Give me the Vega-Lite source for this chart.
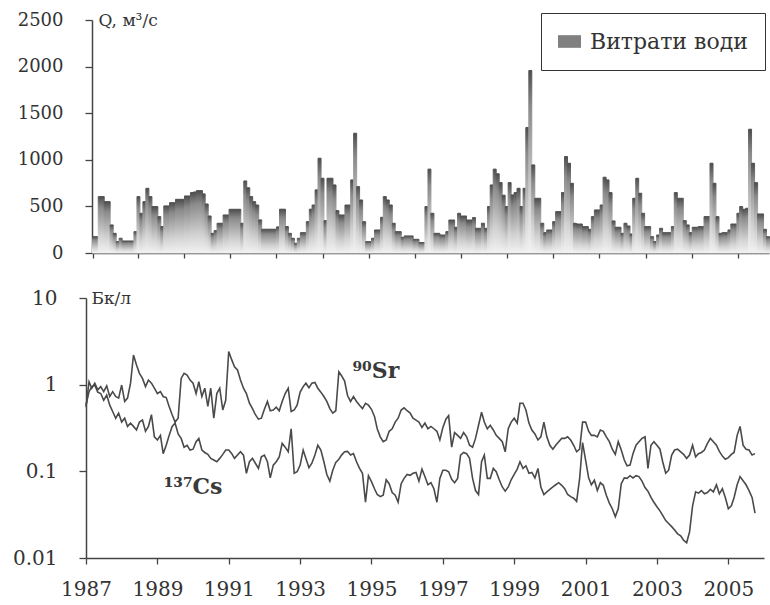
{
 "$schema": "https://vega.github.io/schema/vega-lite/v6.json",
 "background": "white",
 "padding": {"left": 12, "top": 11, "right": 0, "bottom": 0},
 "spacing": 26,
 "config": {
  "view": {"stroke": null},
  "font": "DejaVu Serif",
  "axis": {"grid": false, "domainColor": "#444", "tickColor": "#444", "labelColor": "#333", "labelFont": "DejaVu Serif", "titleFont": "DejaVu Serif", "titleColor": "#333", "titleFontWeight": "normal", "domainWidth": 1.5, "tickWidth": 1.3}
 },
 "datasets": {
  "m": [
   {"d":"1987-01-01","q":175,"sr":0.55,"cs":0.58},{"d":"1987-02-01","q":175,"sr":1.08,"cs":0.83},{"d":"1987-03-01","q":605,"sr":0.91,"cs":0.95},{"d":"1987-04-01","q":605,"sr":1.04,"cs":0.99},{"d":"1987-05-01","q":551,"sr":0.87,"cs":0.82},{"d":"1987-06-01","q":551,"sr":0.95,"cs":0.79},{"d":"1987-07-01","q":301,"sr":0.83,"cs":0.66},{"d":"1987-08-01","q":211,"sr":0.97,"cs":0.76},{"d":"1987-09-01","q":122,"sr":0.73,"cs":0.58},{"d":"1987-10-01","q":158,"sr":0.83,"cs":0.49},{"d":"1987-11-01","q":129,"sr":0.73,"cs":0.41},{"d":"1987-12-01","q":129,"sr":0.70,"cs":0.47},
   {"d":"1988-01-01","q":129,"sr":0.99,"cs":0.37},{"d":"1988-02-01","q":129,"sr":0.64,"cs":0.41},{"d":"1988-03-01","q":229,"sr":0.70,"cs":0.33},{"d":"1988-04-01","q":605,"sr":1.04,"cs":0.36},{"d":"1988-05-01","q":426,"sr":2.2,"cs":0.33},{"d":"1988-06-01","q":551,"sr":1.69,"cs":0.30},{"d":"1988-07-01","q":694,"sr":1.35,"cs":0.37},{"d":"1988-08-01","q":605,"sr":1.18,"cs":0.39},{"d":"1988-09-01","q":498,"sr":0.95,"cs":0.29},{"d":"1988-10-01","q":498,"sr":1.13,"cs":0.33},{"d":"1988-11-01","q":390,"sr":1.04,"cs":0.45},{"d":"1988-12-01","q":283,"sr":0.91,"cs":0.25},
   {"d":"1989-01-01","q":505,"sr":0.79,"cs":0.23},{"d":"1989-02-01","q":505,"sr":0.83,"cs":0.26},{"d":"1989-03-01","q":540,"sr":0.73,"cs":0.16},{"d":"1989-04-01","q":540,"sr":0.71,"cs":0.20},{"d":"1989-05-01","q":576,"sr":0.56,"cs":0.26},{"d":"1989-06-01","q":576,"sr":0.45,"cs":0.33},{"d":"1989-07-01","q":576,"sr":0.37,"cs":0.36},{"d":"1989-08-01","q":612,"sr":0.41,"cs":0.27},{"d":"1989-09-01","q":612,"sr":1.18,"cs":0.24},{"d":"1989-10-01","q":648,"sr":1.35,"cs":0.19},{"d":"1989-11-01","q":655,"sr":1.29,"cs":0.20},{"d":"1989-12-01","q":669,"sr":1.13,"cs":0.176},
   {"d":"1990-01-01","q":669,"sr":1.04,"cs":0.18},{"d":"1990-02-01","q":634,"sr":0.79,"cs":0.22},{"d":"1990-03-01","q":526,"sr":1.08,"cs":0.24},{"d":"1990-04-01","q":397,"sr":0.73,"cs":0.176},{"d":"1990-05-01","q":211,"sr":0.91,"cs":0.165},{"d":"1990-06-01","q":240,"sr":0.56,"cs":0.157},{"d":"1990-07-01","q":319,"sr":0.91,"cs":0.141},{"d":"1990-08-01","q":319,"sr":0.41,"cs":0.135},{"d":"1990-09-01","q":408,"sr":0.79,"cs":0.129},{"d":"1990-10-01","q":408,"sr":0.91,"cs":0.141},{"d":"1990-11-01","q":469,"sr":0.51,"cs":0.157},{"d":"1990-12-01","q":469,"sr":0.66,"cs":0.176},
   {"d":"1991-01-01","q":469,"sr":2.41,"cs":0.176},{"d":"1991-02-01","q":469,"sr":1.93,"cs":0.16},{"d":"1991-03-01","q":319,"sr":1.61,"cs":0.141},{"d":"1991-04-01","q":773,"sr":1.48,"cs":0.154},{"d":"1991-05-01","q":700,"sr":1.13,"cs":0.168},{"d":"1991-06-01","q":605,"sr":0.91,"cs":0.154},{"d":"1991-07-01","q":551,"sr":0.79,"cs":0.095},{"d":"1991-08-01","q":515,"sr":0.61,"cs":0.129},{"d":"1991-09-01","q":355,"sr":0.53,"cs":0.141},{"d":"1991-10-01","q":255,"sr":0.45,"cs":0.124},{"d":"1991-11-01","q":255,"sr":0.40,"cs":0.108},{"d":"1991-12-01","q":255,"sr":0.41,"cs":0.147},
   {"d":"1992-01-01","q":255,"sr":0.52,"cs":0.154},{"d":"1992-02-01","q":255,"sr":0.64,"cs":0.129},{"d":"1992-03-01","q":280,"sr":0.50,"cs":0.084},{"d":"1992-04-01","q":470,"sr":0.51,"cs":0.118},{"d":"1992-05-01","q":470,"sr":0.55,"cs":0.129},{"d":"1992-06-01","q":283,"sr":0.50,"cs":0.147},{"d":"1992-07-01","q":211,"sr":0.64,"cs":0.21},{"d":"1992-08-01","q":158,"sr":0.79,"cs":0.19},{"d":"1992-09-01","q":104,"sr":0.91,"cs":0.168},{"d":"1992-10-01","q":158,"sr":0.49,"cs":0.31},{"d":"1992-11-01","q":218,"sr":0.51,"cs":0.095},{"d":"1992-12-01","q":218,"sr":0.58,"cs":0.099},
   {"d":"1993-01-01","q":336,"sr":0.82,"cs":0.118},{"d":"1993-02-01","q":470,"sr":0.95,"cs":0.176},{"d":"1993-03-01","q":515,"sr":1.04,"cs":0.141},{"d":"1993-04-01","q":677,"sr":0.92,"cs":0.11},{"d":"1993-05-01","q":1017,"sr":1.04,"cs":0.124},{"d":"1993-06-01","q":802,"sr":1.06,"cs":0.154},{"d":"1993-07-01","q":347,"sr":0.91,"cs":0.20},{"d":"1993-08-01","q":802,"sr":0.82,"cs":0.176},{"d":"1993-09-01","q":802,"sr":0.73,"cs":0.129},{"d":"1993-10-01","q":730,"sr":0.64,"cs":0.092},{"d":"1993-11-01","q":455,"sr":0.53,"cs":0.077},{"d":"1993-12-01","q":408,"sr":0.47,"cs":0.103},
   {"d":"1994-01-01","q":408,"sr":0.50,"cs":0.127},{"d":"1994-02-01","q":515,"sr":1.41,"cs":0.138},{"d":"1994-03-01","q":515,"sr":1.27,"cs":0.154},{"d":"1994-04-01","q":784,"sr":1.10,"cs":0.168},{"d":"1994-05-01","q":1285,"sr":0.75,"cs":0.17},{"d":"1994-06-01","q":712,"sr":0.64,"cs":0.154},{"d":"1994-07-01","q":569,"sr":0.73,"cs":0.16},{"d":"1994-08-01","q":336,"sr":0.64,"cs":0.129},{"d":"1994-09-01","q":122,"sr":0.58,"cs":0.108},{"d":"1994-10-01","q":122,"sr":0.53,"cs":0.095},{"d":"1994-11-01","q":158,"sr":0.61,"cs":0.044},{"d":"1994-12-01","q":247,"sr":0.58,"cs":0.089},
   {"d":"1995-01-01","q":247,"sr":0.52,"cs":0.076},{"d":"1995-02-01","q":383,"sr":0.43,"cs":0.063},{"d":"1995-03-01","q":605,"sr":0.31,"cs":0.054},{"d":"1995-04-01","q":569,"sr":0.25,"cs":0.051},{"d":"1995-05-01","q":515,"sr":0.22,"cs":0.053},{"d":"1995-06-01","q":319,"sr":0.23,"cs":0.080},{"d":"1995-07-01","q":229,"sr":0.29,"cs":0.072},{"d":"1995-08-01","q":229,"sr":0.31,"cs":0.057},{"d":"1995-09-01","q":168,"sr":0.37,"cs":0.053},{"d":"1995-10-01","q":183,"sr":0.41,"cs":0.044},{"d":"1995-11-01","q":183,"sr":0.51,"cs":0.072},{"d":"1995-12-01","q":183,"sr":0.54,"cs":0.083},
   {"d":"1996-01-01","q":147,"sr":0.50,"cs":0.092},{"d":"1996-02-01","q":147,"sr":0.47,"cs":0.090},{"d":"1996-03-01","q":111,"sr":0.41,"cs":0.095},{"d":"1996-04-01","q":111,"sr":0.39,"cs":0.097},{"d":"1996-05-01","q":498,"sr":0.37,"cs":0.077},{"d":"1996-06-01","q":900,"sr":0.32,"cs":0.106},{"d":"1996-07-01","q":426,"sr":0.36,"cs":0.087},{"d":"1996-08-01","q":211,"sr":0.31,"cs":0.07},{"d":"1996-09-01","q":211,"sr":0.33,"cs":0.074},{"d":"1996-10-01","q":193,"sr":0.31,"cs":0.063},{"d":"1996-11-01","q":193,"sr":0.29,"cs":0.044},{"d":"1996-12-01","q":229,"sr":0.23,"cs":0.083},
   {"d":"1997-01-01","q":354,"sr":0.32,"cs":0.103},{"d":"1997-02-01","q":354,"sr":0.40,"cs":0.103},{"d":"1997-03-01","q":276,"sr":0.44,"cs":0.099},{"d":"1997-04-01","q":426,"sr":0.19,"cs":0.081},{"d":"1997-05-01","q":397,"sr":0.28,"cs":0.074},{"d":"1997-06-01","q":397,"sr":0.26,"cs":0.083},{"d":"1997-07-01","q":354,"sr":0.24,"cs":0.154},{"d":"1997-08-01","q":354,"sr":0.28,"cs":0.165},{"d":"1997-09-01","q":380,"sr":0.25,"cs":0.16},{"d":"1997-10-01","q":265,"sr":0.20,"cs":0.141},{"d":"1997-11-01","q":265,"sr":0.19,"cs":0.083},{"d":"1997-12-01","q":319,"sr":0.24,"cs":0.06},
   {"d":"1998-01-01","q":265,"sr":0.34,"cs":0.054},{"d":"1998-02-01","q":498,"sr":0.48,"cs":0.129},{"d":"1998-03-01","q":730,"sr":0.37,"cs":0.154},{"d":"1998-04-01","q":900,"sr":0.31,"cs":0.083},{"d":"1998-05-01","q":850,"sr":0.34,"cs":0.083},{"d":"1998-06-01","q":755,"sr":0.30,"cs":0.108},{"d":"1998-07-01","q":620,"sr":0.26,"cs":0.099},{"d":"1998-08-01","q":498,"sr":0.24,"cs":0.080},{"d":"1998-09-01","q":755,"sr":0.22,"cs":0.066},{"d":"1998-10-01","q":623,"sr":0.168,"cs":0.059},{"d":"1998-11-01","q":648,"sr":0.31,"cs":0.066},{"d":"1998-12-01","q":694,"sr":0.37,"cs":0.080},
   {"d":"1999-01-01","q":498,"sr":0.41,"cs":0.092},{"d":"1999-02-01","q":694,"sr":0.36,"cs":0.106},{"d":"1999-03-01","q":1346,"sr":0.61,"cs":0.129},{"d":"1999-04-01","q":1958,"sr":0.61,"cs":0.108},{"d":"1999-05-01","q":945,"sr":0.51,"cs":0.116},{"d":"1999-06-01","q":587,"sr":0.36,"cs":0.095},{"d":"1999-07-01","q":587,"sr":0.30,"cs":0.097},{"d":"1999-08-01","q":319,"sr":0.27,"cs":0.084},{"d":"1999-09-01","q":218,"sr":0.23,"cs":0.108},{"d":"1999-10-01","q":247,"sr":0.25,"cs":0.066},{"d":"1999-11-01","q":247,"sr":0.37,"cs":0.054},{"d":"1999-12-01","q":336,"sr":0.25,"cs":0.058},
   {"d":"2000-01-01","q":444,"sr":0.20,"cs":0.062},{"d":"2000-02-01","q":444,"sr":0.18,"cs":0.066},{"d":"2000-03-01","q":648,"sr":0.20,"cs":0.07},{"d":"2000-04-01","q":1035,"sr":0.22,"cs":0.074},{"d":"2000-05-01","q":963,"sr":0.24,"cs":0.069},{"d":"2000-06-01","q":748,"sr":0.24,"cs":0.063},{"d":"2000-07-01","q":319,"sr":0.25,"cs":0.054},{"d":"2000-08-01","q":311,"sr":0.23,"cs":0.051},{"d":"2000-09-01","q":311,"sr":0.20,"cs":0.049},{"d":"2000-10-01","q":283,"sr":0.168,"cs":0.045},{"d":"2000-11-01","q":283,"sr":0.18,"cs":0.083},{"d":"2000-12-01","q":254,"sr":0.37,"cs":0.215},
   {"d":"2001-01-01","q":390,"sr":0.37,"cs":0.135},{"d":"2001-02-01","q":462,"sr":0.29,"cs":0.084},{"d":"2001-03-01","q":462,"sr":0.26,"cs":0.07},{"d":"2001-04-01","q":515,"sr":0.26,"cs":0.079},{"d":"2001-05-01","q":813,"sr":0.25,"cs":0.06},{"d":"2001-06-01","q":784,"sr":0.30,"cs":0.074},{"d":"2001-07-01","q":648,"sr":0.29,"cs":0.069},{"d":"2001-08-01","q":344,"sr":0.25,"cs":0.053},{"d":"2001-09-01","q":276,"sr":0.22,"cs":0.043},{"d":"2001-10-01","q":276,"sr":0.18,"cs":0.037},{"d":"2001-11-01","q":211,"sr":0.157,"cs":0.030},{"d":"2001-12-01","q":319,"sr":0.22,"cs":0.037},
   {"d":"2002-01-01","q":290,"sr":0.176,"cs":0.072},{"d":"2002-02-01","q":204,"sr":0.135,"cs":0.084},{"d":"2002-03-01","q":587,"sr":0.116,"cs":0.083},{"d":"2002-04-01","q":802,"sr":0.118,"cs":0.089},{"d":"2002-05-01","q":641,"sr":0.16,"cs":0.084},{"d":"2002-06-01","q":426,"sr":0.20,"cs":0.089},{"d":"2002-07-01","q":283,"sr":0.22,"cs":0.087},{"d":"2002-08-01","q":283,"sr":0.24,"cs":0.077},{"d":"2002-09-01","q":175,"sr":0.25,"cs":0.065},{"d":"2002-10-01","q":122,"sr":0.108,"cs":0.059},{"d":"2002-11-01","q":193,"sr":0.20,"cs":0.05},{"d":"2002-12-01","q":265,"sr":0.22,"cs":0.044},
   {"d":"2003-01-01","q":218,"sr":0.20,"cs":0.039},{"d":"2003-02-01","q":218,"sr":0.18,"cs":0.035},{"d":"2003-03-01","q":218,"sr":0.129,"cs":0.031},{"d":"2003-04-01","q":283,"sr":0.095,"cs":0.027},{"d":"2003-05-01","q":648,"sr":0.103,"cs":0.025},{"d":"2003-06-01","q":587,"sr":0.154,"cs":0.023},{"d":"2003-07-01","q":587,"sr":0.176,"cs":0.021},{"d":"2003-08-01","q":347,"sr":0.18,"cs":0.019},{"d":"2003-09-01","q":301,"sr":0.168,"cs":0.018},{"d":"2003-10-01","q":218,"sr":0.157,"cs":0.016},{"d":"2003-11-01","q":276,"sr":0.141,"cs":0.015},{"d":"2003-12-01","q":276,"sr":0.154,"cs":0.02},
   {"d":"2004-01-01","q":283,"sr":0.20,"cs":0.04},{"d":"2004-02-01","q":283,"sr":0.147,"cs":0.058},{"d":"2004-03-01","q":390,"sr":0.16,"cs":0.056},{"d":"2004-04-01","q":390,"sr":0.165,"cs":0.06},{"d":"2004-05-01","q":963,"sr":0.176,"cs":0.055},{"d":"2004-06-01","q":748,"sr":0.21,"cs":0.057},{"d":"2004-07-01","q":390,"sr":0.24,"cs":0.062},{"d":"2004-08-01","q":211,"sr":0.22,"cs":0.058},{"d":"2004-09-01","q":218,"sr":0.20,"cs":0.07},{"d":"2004-10-01","q":218,"sr":0.17,"cs":0.055},{"d":"2004-11-01","q":247,"sr":0.15,"cs":0.063},{"d":"2004-12-01","q":311,"sr":0.138,"cs":0.05},
   {"d":"2005-01-01","q":311,"sr":0.144,"cs":0.037},{"d":"2005-02-01","q":426,"sr":0.157,"cs":0.04},{"d":"2005-03-01","q":498,"sr":0.165,"cs":0.05},{"d":"2005-04-01","q":469,"sr":0.26,"cs":0.07},{"d":"2005-05-01","q":480,"sr":0.33,"cs":0.087},{"d":"2005-06-01","q":1328,"sr":0.20,"cs":0.078},{"d":"2005-07-01","q":963,"sr":0.18,"cs":0.07},{"d":"2005-08-01","q":755,"sr":0.176,"cs":0.06},{"d":"2005-09-01","q":419,"sr":0.154,"cs":0.05},{"d":"2005-10-01","q":419,"sr":0.16,"cs":0.033},{"d":"2005-11-01","q":254},{"d":"2005-12-01","q":175}
  ],
  "lab": [
   {"d":"1995-02-15","v":1.45,"t":"⁹⁰Sr"},
   {"d":"1990-01-01","v":0.066,"t":"¹³⁷Cs"}
  ]
 },
 "vconcat": [
  {
   "width": 683,
   "height": 233,
   "layer": [
    {
     "data": {"name": "m"},
     "mark": {"type": "bar", "binSpacing": 0, "strokeWidth": 1,
      "fill": {"gradient": "linear", "x1": 0, "y1": 0, "x2": 0, "y2": 1, "stops": [{"offset": 0, "color": "#4d4d4d"}, {"offset": 0.2, "color": "#8a8a8a"}, {"offset": 0.7, "color": "#d2d2d2"}, {"offset": 1, "color": "#f2f2f2"}]},
      "stroke": {"gradient": "linear", "x1": 0, "y1": 0, "x2": 0, "y2": 1, "stops": [{"offset": 0, "color": "#4d4d4d"}, {"offset": 0.2, "color": "#8a8a8a"}, {"offset": 0.7, "color": "#d2d2d2"}, {"offset": 1, "color": "#f2f2f2"}]}},
     "encoding": {
      "x": {
       "field": "d", "type": "temporal", "timeUnit": "utcyearmonth",
       "scale": {"type": "utc", "domain": [{"year": 1987, "month": 1, "date": 1, "utc": true}, {"year": 2006, "month": 1, "date": 1, "utc": true}], "range": [6, 683]},
       "axis": {
        "title": null, "labels": false, "tickSize": 5,
        "values": [
         {"year":1987,"month":1,"date":10,"utc":true},{"year":1988,"month":4,"date":16,"utc":true},{"year":1989,"month":8,"date":3,"utc":true},{"year":1990,"month":11,"date":19,"utc":true},{"year":1992,"month":3,"date":5,"utc":true},{"year":1993,"month":6,"date":21,"utc":true},{"year":1994,"month":10,"date":7,"utc":true},{"year":1996,"month":1,"date":24,"utc":true},{"year":1997,"month":5,"date":10,"utc":true},{"year":1998,"month":8,"date":26,"utc":true},{"year":1999,"month":12,"date":12,"utc":true},{"year":2001,"month":3,"date":28,"utc":true},{"year":2002,"month":7,"date":15,"utc":true},{"year":2003,"month":11,"date":1,"utc":true},{"year":2005,"month":2,"date":17,"utc":true}
        ]
       }
      },
      "y": {
       "field": "q", "type": "quantitative",
       "scale": {"domain": [0, 2500], "nice": false},
       "axis": {"values": [0, 500, 1000, 1500, 2000, 2500], "format": "d", "offset": -6, "tickSize": 7, "labelPadding": 22, "labelFontSize": 18, "title": "Q, м³/с", "titleAngle": 0, "titleAlign": "left", "titleBaseline": "middle", "titleX": 6, "titleY": 0, "titleFontSize": 17}
      }
     }
    },
    {
     "data": {"name": "m"},
     "transform": [{"filter": "false"}],
     "mark": {"type": "bar"},
     "encoding": {
      "x": {"field": "d", "type": "temporal", "timeUnit": "utcyearmonth"},
      "y": {"field": "q", "type": "quantitative"},
      "fill": {
       "datum": "Витрати води", "type": "nominal",
       "scale": {"range": ["#808080"]},
       "legend": {"orient": "none", "legendX": 455, "legendY": -7, "title": null, "strokeColor": "#333", "padding": 17, "labelFontSize": 22, "labelFont": "DejaVu Serif", "labelColor": "#333", "symbolType": "M-1,-0.55H1V0.55H-1Z", "symbolSize": 529, "symbolStrokeWidth": 0, "labelOffset": 9, "fillColor": "white",
        "encode": {"symbols": {"update": {"fill": {"value": {"gradient": "linear", "x1": 0, "y1": 0, "x2": 0, "y2": 1, "stops": [{"offset": 0, "color": "#4d4d4d"}, {"offset": 0.5, "color": "#9a9a9a"}, {"offset": 1, "color": "#e0e0e0"}]}}, "opacity": {"value": 1}}}}
       }
      }
     }
    }
   ]
  },
  {
   "width": 678,
   "height": 260,
   "layer": [
    {
     "data": {"name": "m"},
     "mark": {"type": "line", "color": "#4a4a4a", "strokeWidth": 1.6},
     "encoding": {
      "x": {
       "field": "d", "type": "temporal",
       "scale": {"type": "utc", "domain": [{"year": 1987, "month": 1, "date": 1, "utc": true}, {"year": 2006, "month": 1, "date": 1, "utc": true}]},
       "axis": {
        "title": null, "tickSize": 6, "labelPadding": 15, "labelFontSize": 20, "labelOverlap": false, "labelFlush": false, "labelBound": false,
        "values": [
         {"year":1987,"month":1,"date":1,"utc":true},{"year":1988,"month":1,"date":1,"utc":true},{"year":1989,"month":1,"date":1,"utc":true},{"year":1990,"month":1,"date":1,"utc":true},{"year":1991,"month":1,"date":1,"utc":true},{"year":1992,"month":1,"date":1,"utc":true},{"year":1993,"month":1,"date":1,"utc":true},{"year":1994,"month":1,"date":1,"utc":true},{"year":1995,"month":1,"date":1,"utc":true},{"year":1996,"month":1,"date":1,"utc":true},{"year":1997,"month":1,"date":1,"utc":true},{"year":1998,"month":1,"date":1,"utc":true},{"year":1999,"month":1,"date":1,"utc":true},{"year":2000,"month":1,"date":1,"utc":true},{"year":2001,"month":1,"date":1,"utc":true},{"year":2002,"month":1,"date":1,"utc":true},{"year":2003,"month":1,"date":1,"utc":true},{"year":2004,"month":1,"date":1,"utc":true},{"year":2005,"month":1,"date":1,"utc":true}
        ],
        "labelExpr": "(utcyear(datum.value) % 2 == 1) ? utcFormat(datum.value, '%Y') : ''"
       }
      },
      "y": {
       "field": "sr", "type": "quantitative",
       "scale": {"type": "log", "domain": [0.01, 10]},
       "axis": {"values": [0.01, 0.1, 1, 10], "format": "~g", "tickSize": 7, "labelPadding": 22, "labelFontSize": 20, "title": "Бк/л", "titleAngle": 0, "titleAlign": "left", "titleBaseline": "middle", "titleX": 5, "titleY": 0, "titleFontSize": 17}
      }
     }
    },
    {
     "data": {"name": "m"},
     "mark": {"type": "line", "color": "#4a4a4a", "strokeWidth": 1.6},
     "encoding": {
      "x": {"field": "d", "type": "temporal"},
      "y": {"field": "cs", "type": "quantitative"}
     }
    },
    {
     "data": {"name": "lab"},
     "mark": {"type": "text", "fontSize": 22, "fontWeight": "bold", "font": "DejaVu Serif", "color": "#3a3a3a"},
     "encoding": {
      "x": {"field": "d", "type": "temporal"},
      "y": {"field": "v", "type": "quantitative"},
      "text": {"field": "t"}
     }
    }
   ]
  }
 ]
}
